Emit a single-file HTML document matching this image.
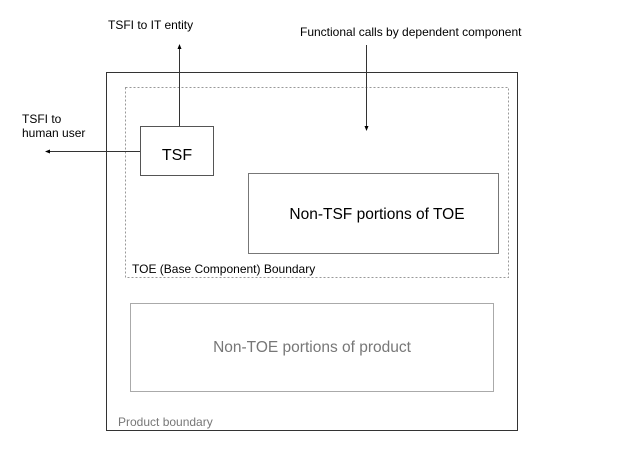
<!DOCTYPE html>
<html><head><meta charset="utf-8"><style>
html,body{margin:0;padding:0;background:#fff;}
svg{display:block;font-family:"Liberation Sans",Arial,sans-serif;}
</style></head><body>
<svg width="624" height="468" viewBox="0 0 624 468" xmlns="http://www.w3.org/2000/svg">
<rect x="0" y="0" width="624" height="468" fill="#fff"/>
<rect x="106.5" y="72.5" width="411" height="358" fill="none" stroke="#333" stroke-width="1"/>
<rect x="125.5" y="87.5" width="383" height="190" fill="none" stroke="#999" stroke-width="1" stroke-dasharray="2,2"/>
<rect x="140.5" y="126.5" width="73" height="49" fill="#fff" stroke="#555" stroke-width="1"/>
<text x="177" y="160" font-size="16" text-anchor="middle" fill="#000">TSF</text>
<rect x="248.5" y="173.5" width="250" height="80" fill="#fff" stroke="#777" stroke-width="1"/>
<text x="377" y="219" font-size="15.5" text-anchor="middle" fill="#000">Non-TSF portions of TOE</text>
<text x="132" y="273" font-size="12" fill="#000">TOE (Base Component) Boundary</text>
<rect x="130.5" y="303.5" width="363" height="88" fill="#fff" stroke="#aaa" stroke-width="1"/>
<text x="312" y="352" font-size="15.5" text-anchor="middle" fill="#777">Non-TOE portions of product</text>
<text x="118" y="426" font-size="12" fill="#777">Product boundary</text>
<line x1="179.5" y1="126" x2="179.5" y2="48" stroke="#333" stroke-width="1"/>
<polygon points="179.5,44 177.5,49 181.5,49" fill="#000"/>
<line x1="140" y1="151.5" x2="48" y2="151.5" stroke="#333" stroke-width="1"/>
<polygon points="45,151.5 50,149.5 50,153.5" fill="#000"/>
<line x1="366.5" y1="45" x2="366.5" y2="128" stroke="#333" stroke-width="1"/>
<polygon points="366.5,131 364.5,126 368.5,126" fill="#000"/>
<text x="108" y="29" font-size="12" fill="#000">TSFI to IT entity</text>
<text x="300" y="36" font-size="12" fill="#000">Functional calls by dependent component</text>
<text x="22" y="123" font-size="12" fill="#000">TSFI to</text>
<text x="22" y="137" font-size="12" fill="#000">human user</text>
</svg>
</body></html>
